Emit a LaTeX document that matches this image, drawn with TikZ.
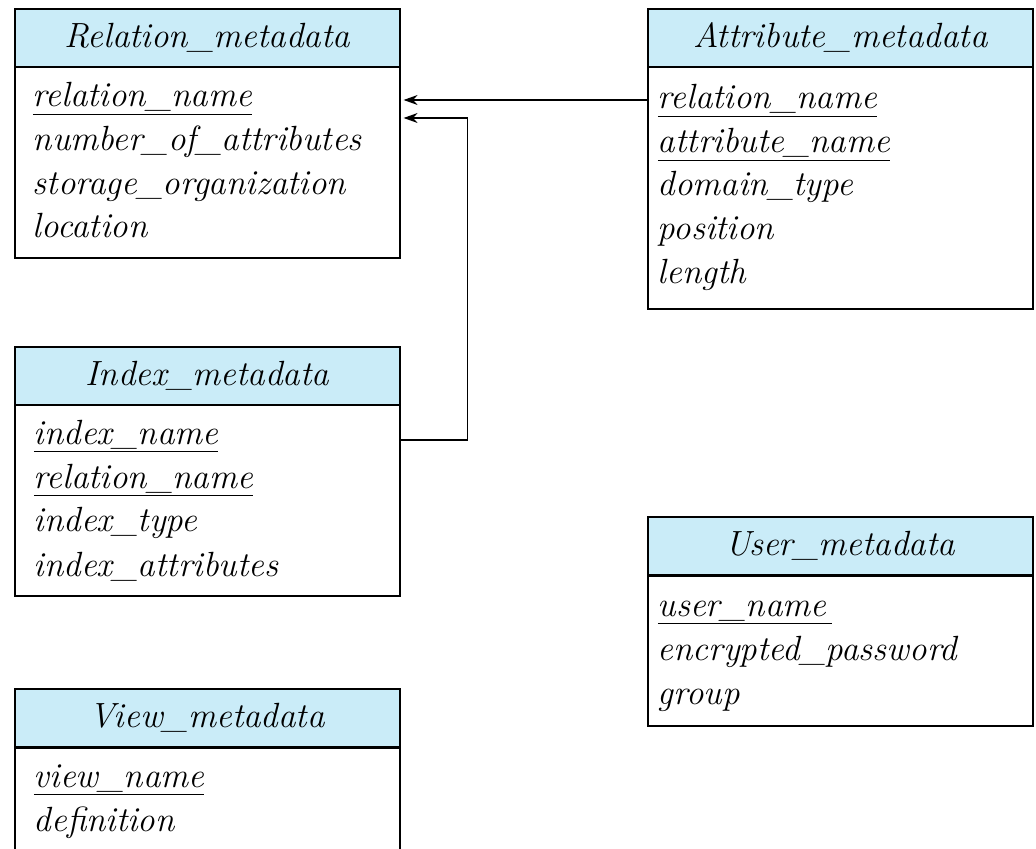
\documentclass[tikz,border=0pt]{standalone}
\usetikzlibrary{arrows.meta}
\definecolor{headblue}{RGB}{202,236,248}
\newcommand{\pkey}[1]{\underline{#1}}
\begin{document}
\begin{tikzpicture}
            [x=0.5pt,y=-0.5pt,line width=0.8pt,
             head/.style={draw,fill=headblue,anchor=north west,inner sep=0pt,minimum width=192.5pt,minimum height=29pt,font=\fontsize{17.5}{22}\selectfont\itshape},
             body/.style={draw,anchor=north west,inner sep=0pt,minimum width=192.5pt},
             field/.style={anchor=base west,inner sep=0pt,font=\fontsize{17.5}{22}\selectfont\itshape},
             fk/.style={-{Stealth[length=7pt,width=5pt]},line width=0.6pt,shorten >=1.5pt}]
            \useasboundingbox (0,0) rectangle (1036,849);
            \clip (0,0) rectangle (1036,849);
            % relation
            \node[head] (relhead) at (14,8) {Relation\_metadata};
            \node[body,minimum height=95.5pt] (relbody) at (14,66) {};
            \node[field] (rel1) at (32,107) {\pkey{relation\_name}};
            \node[field] (rel2) at (32,151) {number\_of\_attributes};
            \node[field] (rel3) at (32,195) {storage\_organization};
            \node[field] (rel4) at (32,238) {location};
            % attribute
            \node[head] (attrhead) at (647,8) {Attribute\_metadata};
            \node[body,minimum height=121pt] (attrbody) at (647,66) {};
            \node[field] (attr1) at (657,109) {\pkey{relation\_name}};
            \node[field] (attr2) at (657,153) {\pkey{attribute\_name}};
            \node[field] (attr3) at (657,196) {domain\_type};
            \node[field] (attr4) at (657,240) {position};
            \node[field] (attr5) at (657,284) {length};
            % index
            \node[head] (idxhead) at (14,346) {Index\_metadata};
            \node[body,minimum height=95.5pt] (idxbody) at (14,404) {};
            \node[field] (idx1) at (33,444) {\pkey{index\_name}};
            \node[field] (idx2) at (33,488) {\pkey{relation\_name}};
            \node[field] (idx3) at (33,531) {index\_type};
            \node[field] (idx4) at (33,576) {index\_attributes};
            % user
            \node[head] (userhead) at (647,516) {User\_metadata};
            \node[body,minimum height=75pt] (userbody) at (647,575) {};
            \node[field] (user1) at (657,616) {\pkey{user\_name\,}};
            \node[field] (user2) at (657,660) {encrypted\_password};
            \node[field] (user3) at (657,704) {group};
            % view
            \node[head] (viewhead) at (14,688) {View\_metadata};
            \node[body,minimum height=75pt] (viewbody) at (14,747) {};
            \node[field] (view1) at (33,787) {\pkey{view\_name}};
            \node[field] (view2) at (33,831) {definition};
            % foreign keys
            \draw[fk] (attrbody.west |- 0,100) -- (relbody.east |- 0,100);
            \draw[fk] (idxbody.east |- 0,440) -- ++(67,0) |- (relbody.east |- 0,118);
        \end{tikzpicture}
\end{document}
